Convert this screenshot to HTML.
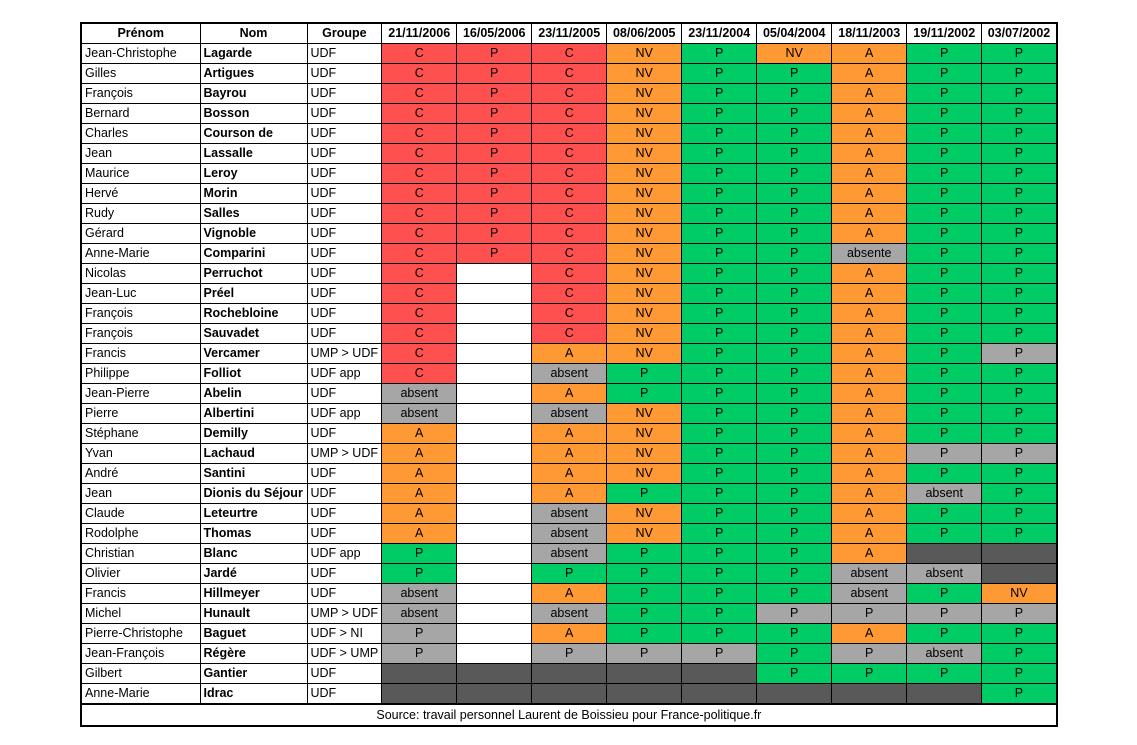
<!DOCTYPE html>
<html><head><meta charset="utf-8"><style>
body{margin:0;background:#fff;width:1137px;height:745px;overflow:hidden}
table{position:absolute;left:80px;top:22px;border-collapse:collapse;table-layout:fixed;font-family:"Liberation Sans",sans-serif;font-size:12.5px;border:2px solid #000}
td{border:1px solid #000;height:19px;padding:0 3px;white-space:nowrap;overflow:hidden;line-height:19px;text-align:center}
td.l{text-align:left}td.b{text-align:left;font-weight:bold}
tr.h td{font-weight:bold;text-align:center}
.r{background:#ff5050}.o{background:#ff9933}.g{background:#00cc66}.a{background:#a6a6a6}.d{background:#595959}
</style></head><body>
<table>
<colgroup><col style="width:119px"><col style="width:107px"><col style="width:71px"><col style="width:75px"><col style="width:75px"><col style="width:75px"><col style="width:75px"><col style="width:75px"><col style="width:75px"><col style="width:75px"><col style="width:75px"><col style="width:75px"></colgroup>
<tr class="h"><td>Prénom</td><td>Nom</td><td>Groupe</td><td>21/11/2006</td><td>16/05/2006</td><td>23/11/2005</td><td>08/06/2005</td><td>23/11/2004</td><td>05/04/2004</td><td>18/11/2003</td><td>19/11/2002</td><td>03/07/2002</td></tr>
<tr><td class="l">Jean-Christophe</td><td class="b">Lagarde</td><td class="l">UDF</td><td class="r">C</td><td class="r">P</td><td class="r">C</td><td class="o">NV</td><td class="g">P</td><td class="o">NV</td><td class="o">A</td><td class="g">P</td><td class="g">P</td></tr>
<tr><td class="l">Gilles</td><td class="b">Artigues</td><td class="l">UDF</td><td class="r">C</td><td class="r">P</td><td class="r">C</td><td class="o">NV</td><td class="g">P</td><td class="g">P</td><td class="o">A</td><td class="g">P</td><td class="g">P</td></tr>
<tr><td class="l">François</td><td class="b">Bayrou</td><td class="l">UDF</td><td class="r">C</td><td class="r">P</td><td class="r">C</td><td class="o">NV</td><td class="g">P</td><td class="g">P</td><td class="o">A</td><td class="g">P</td><td class="g">P</td></tr>
<tr><td class="l">Bernard</td><td class="b">Bosson</td><td class="l">UDF</td><td class="r">C</td><td class="r">P</td><td class="r">C</td><td class="o">NV</td><td class="g">P</td><td class="g">P</td><td class="o">A</td><td class="g">P</td><td class="g">P</td></tr>
<tr><td class="l">Charles</td><td class="b">Courson de</td><td class="l">UDF</td><td class="r">C</td><td class="r">P</td><td class="r">C</td><td class="o">NV</td><td class="g">P</td><td class="g">P</td><td class="o">A</td><td class="g">P</td><td class="g">P</td></tr>
<tr><td class="l">Jean</td><td class="b">Lassalle</td><td class="l">UDF</td><td class="r">C</td><td class="r">P</td><td class="r">C</td><td class="o">NV</td><td class="g">P</td><td class="g">P</td><td class="o">A</td><td class="g">P</td><td class="g">P</td></tr>
<tr><td class="l">Maurice</td><td class="b">Leroy</td><td class="l">UDF</td><td class="r">C</td><td class="r">P</td><td class="r">C</td><td class="o">NV</td><td class="g">P</td><td class="g">P</td><td class="o">A</td><td class="g">P</td><td class="g">P</td></tr>
<tr><td class="l">Hervé</td><td class="b">Morin</td><td class="l">UDF</td><td class="r">C</td><td class="r">P</td><td class="r">C</td><td class="o">NV</td><td class="g">P</td><td class="g">P</td><td class="o">A</td><td class="g">P</td><td class="g">P</td></tr>
<tr><td class="l">Rudy</td><td class="b">Salles</td><td class="l">UDF</td><td class="r">C</td><td class="r">P</td><td class="r">C</td><td class="o">NV</td><td class="g">P</td><td class="g">P</td><td class="o">A</td><td class="g">P</td><td class="g">P</td></tr>
<tr><td class="l">Gérard</td><td class="b">Vignoble</td><td class="l">UDF</td><td class="r">C</td><td class="r">P</td><td class="r">C</td><td class="o">NV</td><td class="g">P</td><td class="g">P</td><td class="o">A</td><td class="g">P</td><td class="g">P</td></tr>
<tr><td class="l">Anne-Marie</td><td class="b">Comparini</td><td class="l">UDF</td><td class="r">C</td><td class="r">P</td><td class="r">C</td><td class="o">NV</td><td class="g">P</td><td class="g">P</td><td class="a">absente</td><td class="g">P</td><td class="g">P</td></tr>
<tr><td class="l">Nicolas</td><td class="b">Perruchot</td><td class="l">UDF</td><td class="r">C</td><td></td><td class="r">C</td><td class="o">NV</td><td class="g">P</td><td class="g">P</td><td class="o">A</td><td class="g">P</td><td class="g">P</td></tr>
<tr><td class="l">Jean-Luc</td><td class="b">Préel</td><td class="l">UDF</td><td class="r">C</td><td></td><td class="r">C</td><td class="o">NV</td><td class="g">P</td><td class="g">P</td><td class="o">A</td><td class="g">P</td><td class="g">P</td></tr>
<tr><td class="l">François</td><td class="b">Rochebloine</td><td class="l">UDF</td><td class="r">C</td><td></td><td class="r">C</td><td class="o">NV</td><td class="g">P</td><td class="g">P</td><td class="o">A</td><td class="g">P</td><td class="g">P</td></tr>
<tr><td class="l">François</td><td class="b">Sauvadet</td><td class="l">UDF</td><td class="r">C</td><td></td><td class="r">C</td><td class="o">NV</td><td class="g">P</td><td class="g">P</td><td class="o">A</td><td class="g">P</td><td class="g">P</td></tr>
<tr><td class="l">Francis</td><td class="b">Vercamer</td><td class="l">UMP &gt; UDF</td><td class="r">C</td><td></td><td class="o">A</td><td class="o">NV</td><td class="g">P</td><td class="g">P</td><td class="o">A</td><td class="g">P</td><td class="a">P</td></tr>
<tr><td class="l">Philippe</td><td class="b">Folliot</td><td class="l">UDF app</td><td class="r">C</td><td></td><td class="a">absent</td><td class="g">P</td><td class="g">P</td><td class="g">P</td><td class="o">A</td><td class="g">P</td><td class="g">P</td></tr>
<tr><td class="l">Jean-Pierre</td><td class="b">Abelin</td><td class="l">UDF</td><td class="a">absent</td><td></td><td class="o">A</td><td class="g">P</td><td class="g">P</td><td class="g">P</td><td class="o">A</td><td class="g">P</td><td class="g">P</td></tr>
<tr><td class="l">Pierre</td><td class="b">Albertini</td><td class="l">UDF app</td><td class="a">absent</td><td></td><td class="a">absent</td><td class="o">NV</td><td class="g">P</td><td class="g">P</td><td class="o">A</td><td class="g">P</td><td class="g">P</td></tr>
<tr><td class="l">Stéphane</td><td class="b">Demilly</td><td class="l">UDF</td><td class="o">A</td><td></td><td class="o">A</td><td class="o">NV</td><td class="g">P</td><td class="g">P</td><td class="o">A</td><td class="g">P</td><td class="g">P</td></tr>
<tr><td class="l">Yvan</td><td class="b">Lachaud</td><td class="l">UMP &gt; UDF</td><td class="o">A</td><td></td><td class="o">A</td><td class="o">NV</td><td class="g">P</td><td class="g">P</td><td class="o">A</td><td class="a">P</td><td class="a">P</td></tr>
<tr><td class="l">André</td><td class="b">Santini</td><td class="l">UDF</td><td class="o">A</td><td></td><td class="o">A</td><td class="o">NV</td><td class="g">P</td><td class="g">P</td><td class="o">A</td><td class="g">P</td><td class="g">P</td></tr>
<tr><td class="l">Jean</td><td class="b">Dionis du Séjour</td><td class="l">UDF</td><td class="o">A</td><td></td><td class="o">A</td><td class="g">P</td><td class="g">P</td><td class="g">P</td><td class="o">A</td><td class="a">absent</td><td class="g">P</td></tr>
<tr><td class="l">Claude</td><td class="b">Leteurtre</td><td class="l">UDF</td><td class="o">A</td><td></td><td class="a">absent</td><td class="o">NV</td><td class="g">P</td><td class="g">P</td><td class="o">A</td><td class="g">P</td><td class="g">P</td></tr>
<tr><td class="l">Rodolphe</td><td class="b">Thomas</td><td class="l">UDF</td><td class="o">A</td><td></td><td class="a">absent</td><td class="o">NV</td><td class="g">P</td><td class="g">P</td><td class="o">A</td><td class="g">P</td><td class="g">P</td></tr>
<tr><td class="l">Christian</td><td class="b">Blanc</td><td class="l">UDF app</td><td class="g">P</td><td></td><td class="a">absent</td><td class="g">P</td><td class="g">P</td><td class="g">P</td><td class="o">A</td><td class="d"></td><td class="d"></td></tr>
<tr><td class="l">Olivier</td><td class="b">Jardé</td><td class="l">UDF</td><td class="g">P</td><td></td><td class="g">P</td><td class="g">P</td><td class="g">P</td><td class="g">P</td><td class="a">absent</td><td class="a">absent</td><td class="d"></td></tr>
<tr><td class="l">Francis</td><td class="b">Hillmeyer</td><td class="l">UDF</td><td class="a">absent</td><td></td><td class="o">A</td><td class="g">P</td><td class="g">P</td><td class="g">P</td><td class="a">absent</td><td class="g">P</td><td class="o">NV</td></tr>
<tr><td class="l">Michel</td><td class="b">Hunault</td><td class="l">UMP &gt; UDF</td><td class="a">absent</td><td></td><td class="a">absent</td><td class="g">P</td><td class="g">P</td><td class="a">P</td><td class="a">P</td><td class="a">P</td><td class="a">P</td></tr>
<tr><td class="l">Pierre-Christophe</td><td class="b">Baguet</td><td class="l">UDF &gt; NI</td><td class="a">P</td><td></td><td class="o">A</td><td class="g">P</td><td class="g">P</td><td class="g">P</td><td class="o">A</td><td class="g">P</td><td class="g">P</td></tr>
<tr><td class="l">Jean-François</td><td class="b">Régère</td><td class="l">UDF &gt; UMP</td><td class="a">P</td><td></td><td class="a">P</td><td class="a">P</td><td class="a">P</td><td class="g">P</td><td class="a">P</td><td class="a">absent</td><td class="g">P</td></tr>
<tr><td class="l">Gilbert</td><td class="b">Gantier</td><td class="l">UDF</td><td class="d"></td><td class="d"></td><td class="d"></td><td class="d"></td><td class="d"></td><td class="g">P</td><td class="g">P</td><td class="g">P</td><td class="g">P</td></tr>
<tr><td class="l">Anne-Marie</td><td class="b">Idrac</td><td class="l">UDF</td><td class="d"></td><td class="d"></td><td class="d"></td><td class="d"></td><td class="d"></td><td class="d"></td><td class="d"></td><td class="d"></td><td class="g">P</td></tr>
<tr><td colspan="12" style="height:20px;border-top:2px solid #000">Source: travail personnel Laurent de Boissieu pour France-politique.fr</td></tr>
</table>
</body></html>
